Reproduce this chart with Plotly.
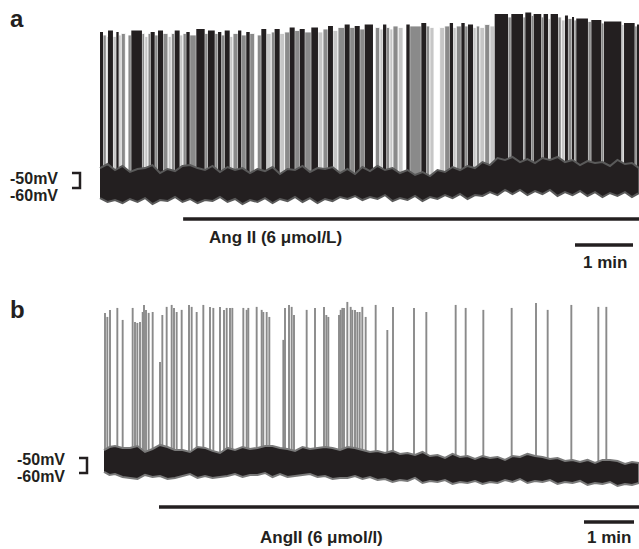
import plotly.graph_objects as go

# ---------------- Panel a data (time in s, potential in mV) ----------------
# Spike-stripe edges (s); each stripe between consecutive edges has a firing density level
# 3 = dense overlapping spikes, 2 = single spikes, 1 = faint spikes, 0 = no spike
a_edges = [0, 3.1, 6.5, 8.3, 13.4, 16.9, 19.3, 22.0, 26.2, 29.0,
           32.4, 43.4, 46.2, 49.7, 52.4, 56.6, 60.0, 65.2, 70.3, 73.8,
           77.3, 82.4, 85.9, 89.3, 92.8, 99.6, 108.3, 111.7, 118.7, 122.1,
           125.5, 129.0, 134.2, 137.6, 142.8, 146.2, 151.3, 154.9, 160.0, 162.7,
           166.9, 172.0, 177.2, 180.6, 185.9, 191.0, 196.2, 201.4, 206.6, 211.8,
           218.6, 225.5, 230.7, 235.9, 241.0, 246.2, 253.1, 258.3, 263.5, 268.7,
           273.8, 282.4, 284.8, 289.4, 292.8, 296.2, 299.7, 303.1, 308.3, 313.5,
           316.9, 320.4, 332.4, 337.5, 341.1, 345.5, 351.4, 356.6, 361.8, 365.2,
           368.6, 373.8, 377.3, 380.7, 385.9, 389.3, 392.8, 398.0, 403.2, 408.3,
           422.1, 425.5, 437.6, 440.0, 446.1, 448.6, 456.5, 458.9, 463.5, 466.2,
           473.8, 477.2, 481.0, 484.1, 488.3, 490.4, 492.7, 504.8, 508.3, 518.6,
           521.4, 539.3, 542.1, 553.1, 555.8, 557.6]
a_levels = [3, 2, 1, 3, 1, 3, 1, 2, 0, 2,
            3, 2, 1, 2, 3, 2, 3, 2, 1, 2,
            3, 1, 2, 3, 2, 3, 2, 3, 2, 3,
            2, 3, 1, 2, 3, 2, 3, 2, 0, 2,
            3, 1, 2, 3, 1, 2, 3, 2, 3, 2,
            3, 1, 2, 3, 1, 2, 3, 2, 3, 2,
            3, 0, 2, 1, 3, 2, 1, 2, 1, 0,
            3, 2, 3, 2, 1, 0, 1, 2, 3, 1,
            2, 3, 2, 3, 1, 2, 1, 2, 1, 3,
            2, 3, 2, 3, 2, 3, 2, 3, 1, 3,
            2, 1, 3, 2, 3, 2, 3, 2, 3, 2,
            3, 1, 3, 2, 3]
a_peaks = [44, 42, 41, 45, 41, 44, 42, 43, 43, 42,
           45, 43, 41, 43, 44, 42, 45, 43, 41, 43,
           45, 42, 43, 44, 42, 46, 43, 45, 43, 44,
           42, 45, 41, 43, 45, 42, 44, 43, 43, 42,
           46, 43, 44, 46, 43, 44, 47, 45, 46, 44,
           47, 44, 46, 48, 45, 47, 49, 47, 48, 46,
           49, 48, 47, 46, 49, 47, 46, 48, 47, 47,
           49, 48, 50, 48, 47, 47, 47, 48, 50, 47,
           48, 50, 48, 49, 47, 48, 47, 49, 48, 56,
           54, 56, 54, 57, 55, 56, 54, 56, 53, 56,
           54, 52, 55, 53, 54, 52, 53, 51, 52, 50,
           51, 49, 50, 48, 49]
# Baseline envelope samples
a_base_t = [0, 15.5, 31.0, 46.6, 62.1, 77.6, 93.1, 108.6, 124.1, 139.7, 155.2, 170.7,
            186.2, 201.7, 217.2, 232.8, 248.3, 263.8, 279.3, 294.8, 310.3, 325.9, 341.4,
            356.9, 372.4, 387.9, 403.4, 419.0, 434.5, 450.0, 465.5, 481.0, 496.6, 512.1,
            527.6, 543.1, 557.6]
a_base_hi = [-46.7, -48, -49.3, -46.7, -50, -48.7, -44.7, -48, -49.3, -48, -50, -48.7,
             -50.7, -48, -49.3, -47.3, -50, -50.7, -48.7, -48, -50, -51.3, -52, -49.3,
             -48, -46.7, -44.7, -41.3, -42.7, -43.3, -41.3, -42.7, -44.7, -43.3, -45.3,
             -44, -46.7]
a_base_lo = [-66.7, -68, -67.3, -66.7, -68, -66, -67.3, -68, -66, -67.3, -68, -66.7,
             -67.3, -66, -66.7, -67.3, -66, -65.3, -66, -64.7, -66.7, -65.3, -66, -64.7,
             -64, -64.7, -62.7, -61.3, -61.3, -62, -61.3, -62.7, -62, -62.7, -63.3,
             -62.7, -63.3]
# Noise excursions between the samples
a_noise_t = [7.8, 23.3, 38.8, 54.3, 69.8, 85.3, 100.9, 116.4, 131.9, 147.4, 162.9, 178.5,
             194.0, 209.5, 225.0, 240.5, 256.0, 271.5, 287.1, 302.6, 318.1, 333.6, 349.1,
             364.7, 380.2, 395.7, 411.2, 426.7, 442.2, 457.7, 473.3, 488.8, 504.3, 519.8,
             535.3, 550.3]
a_noise_hi = [-44.0, -45.3, -47.3, -44.7, -47.3, -45.3, -46.7, -45.3, -46.0, -46.7, -47.3,
              -46.0, -47.3, -45.3, -46.7, -46.0, -47.3, -46.0, -45.3, -46.7, -48.0, -49.3,
              -48.0, -46.0, -45.3, -42.7, -40.0, -39.3, -40.7, -40.0, -39.3, -41.3, -42.0,
              -42.7, -41.3, -43.3]
a_noise_lo = [-69.3, -70.0, -69.3, -70.7, -68.7, -69.3, -70.0, -68.7, -69.3, -70.7, -69.3,
              -70.0, -68.7, -69.3, -70.0, -68.7, -67.3, -68.0, -67.3, -68.7, -68.0, -68.7,
              -67.3, -66.7, -67.3, -65.3, -64.7, -64.0, -64.7, -64.0, -65.3, -64.7, -65.3,
              -66.0, -65.3, -66.0]
a_drug_on, a_drug_off = 86.0, 557.6

# ---------------- Panel b data ----------------
b_spike_t = [1.2, 4.0, 7.2, 16.0, 22.4, 34.4, 37.2, 40.0, 43.2, 46.4,
             48.0, 50.4, 53.6, 58.4, 67.2, 70.0, 75.2, 81.2, 84.0, 87.2,
             93.2, 102.0, 105.2, 111.2, 119.2, 127.2, 131.2, 139.2, 144.0, 147.2,
             151.2, 154.0, 167.2, 171.2, 173.2, 183.2, 189.2, 191.2, 195.2, 198.4,
             215.2, 217.2, 222.0, 225.2, 228.0, 243.2, 253.2, 264.0, 266.8, 269.2,
             282.0, 284.0, 286.0, 288.0, 292.0, 296.0, 298.0, 301.2, 304.0, 306.8,
             310.0, 314.0, 326.0, 340.0, 346.8, 372.0, 386.8, 422.0, 434.0, 455.2,
             489.2, 518.4, 532.4, 560.8, 593.2, 602.8]
b_spike_peak = [46.7, 44, 48.7, 50, 42, 50, 40.7, 40, 40.7, 47.3,
                52, 48.7, 46.7, 47.3, 14, 45.3, 50.7, 52, 50, 47.3,
                48.7, 52, 50.7, 47.3, 52, 50.7, 50, 50.7, 48.7, 50,
                50, 50, 50, 48.7, 50, 50.7, 48.7, 47.3, 47.3, 44,
                28.7, 50, 52, 50.7, 45.3, 48.7, 50, 50.7, 45.3, 44,
                45.3, 48.7, 50, 50, 54, 50.7, 48.7, 48.7, 47.3, 47.3,
                50.7, 44, 52, 35.3, 50.7, 50, 47.3, 52, 50, 48.7,
                50, 53.3, 48.7, 52, 50.7, 50.7]
b_base_t = [0, 13.2, 31.2, 49.2, 67.2, 85.2, 103.2, 121.2, 139.2, 157.2, 175.2, 193.2,
            211.2, 229.2, 247.2, 265.2, 283.2, 301.2, 319.2, 337.2, 355.2, 373.2, 391.2,
            409.2, 427.2, 445.2, 463.2, 481.2, 499.2, 517.2, 535.2, 553.2, 571.2, 589.2,
            607.2, 625.2, 642.0]
b_base_hi = [-44.7, -42, -43.3, -46, -41.3, -44.7, -46, -43.3, -46.7, -44.7, -44, -42,
             -43.3, -45.3, -44, -42.7, -44.7, -43.3, -46, -46.7, -47.3, -48, -48.7, -50,
             -49.3, -50.7, -50, -51.3, -49.3, -48.7, -50.7, -52, -52.7, -53.3, -51.3,
             -54, -53.3]
b_base_lo = [-59.3, -60.7, -63.3, -61.3, -62, -63.3, -60.7, -62, -62.7, -60.7, -61.3, -60,
             -60.7, -62, -60.7, -62, -63.3, -62, -62.7, -64, -64.7, -63.3, -65.3, -64.7,
             -66, -65.3, -66, -64.7, -64, -65.3, -64.7, -66, -65.3, -66.7, -66, -67.3,
             -66.7]
b_noise_t = [6.6, 22.2, 40.2, 58.2, 76.2, 94.2, 112.2, 130.2, 148.2, 166.2, 184.2, 202.2,
             220.2, 238.2, 256.2, 274.2, 292.2, 310.2, 328.2, 346.2, 364.2, 382.2, 400.2,
             418.2, 436.2, 454.2, 472.2, 490.2, 508.2, 526.2, 544.2, 562.2, 580.2, 598.2,
             616.2, 633.6]
b_noise_hi = [-42.7, -43.3, -42.0, -44.0, -42.7, -44.7, -42.7, -45.3, -43.3, -42.7, -43.3,
              -42.0, -44.0, -42.7, -43.3, -43.3, -42.7, -44.7, -45.3, -45.3, -46.7, -46.0,
              -48.0, -47.3, -48.7, -48.7, -49.3, -48.7, -47.3, -49.3, -50.0, -51.3, -51.3,
              -51.3, -52.0, -52.7]
b_noise_lo = [-61.3, -62.7, -64.0, -62.7, -64.0, -62.0, -63.3, -63.3, -62.0, -62.7, -61.3,
              -62.7, -62.7, -61.3, -62.7, -64.0, -63.3, -64.0, -64.7, -66.0, -65.3, -66.7,
              -66.0, -67.3, -66.7, -67.3, -66.7, -66.0, -66.7, -66.0, -67.3, -66.7, -68.0,
              -67.3, -68.7, -68.0]
b_drug_on, b_drug_off = 66.0, 642.0

assert len(a_edges) == len(a_levels) + 1 == len(a_peaks) + 1
assert len(b_spike_t) == len(b_spike_peak)
assert len(a_base_t) == len(a_base_hi) == len(a_base_lo)
assert len(a_noise_t) == len(a_noise_hi) == len(a_noise_lo)
assert len(b_base_t) == len(b_base_hi) == len(b_base_lo)
assert len(b_noise_t) == len(b_noise_hi) == len(b_noise_lo)

BLACK = "#231f20"
LEVEL_COLORS = {3: BLACK, 2: "#8a8a8a", 1: "#c6c6c6"}
SPIKE_BASE = -55

fig = go.Figure()

def envelope(t1, hi1, lo1, t2, hi2, lo2):
    pts = sorted(zip(t1 + t2, hi1 + hi2, lo1 + lo2))
    t = [p[0] for p in pts]
    hi = [p[1] for p in pts]
    lo = [p[2] for p in pts]
    return t + t[::-1], hi + lo[::-1]

# ---- panel a stripes ----
for lvl in (1, 2, 3):
    xs, ws, ys = [], [], []
    for i, L in enumerate(a_levels):
        if L != lvl:
            continue
        s, e = a_edges[i], a_edges[i + 1]
        xs.append((s + e) / 2)
        ws.append(e - s)
        ys.append(a_peaks[i] - SPIKE_BASE)
    fig.add_trace(go.Bar(x=xs, y=ys, width=ws, base=SPIKE_BASE,
                         marker=dict(color=LEVEL_COLORS[lvl],
                                     line=dict(width=0.8 if lvl < 3 else 0, color="white")),
                         xaxis="x", yaxis="y", hoverinfo="skip", showlegend=False))

# ---- panel a baseline ----
ex, ey = envelope(a_base_t, a_base_hi, a_base_lo, a_noise_t, a_noise_hi, a_noise_lo)
fig.add_trace(go.Scatter(x=ex, y=ey, fill="toself", fillcolor=BLACK, mode="lines",
                         line=dict(color="#5a5a5a", width=2),
                         xaxis="x", yaxis="y", hoverinfo="skip", showlegend=False))

# ---- panel b spikes ----
sx, sy = [], []
for t, p in zip(b_spike_t, b_spike_peak):
    sx += [t, t, None]
    sy += [SPIKE_BASE, p, None]
fig.add_trace(go.Scatter(x=sx, y=sy, mode="lines", line=dict(color="#8a8a8a", width=1.9),
                         xaxis="x2", yaxis="y2", hoverinfo="skip", showlegend=False))

# ---- panel b baseline ----
ex, ey = envelope(b_base_t, b_base_hi, b_base_lo, b_noise_t, b_noise_hi, b_noise_lo)
fig.add_trace(go.Scatter(x=ex, y=ey, fill="toself", fillcolor=BLACK, mode="lines",
                         line=dict(color="#7a7a7a", width=2),
                         xaxis="x2", yaxis="y2", hoverinfo="skip", showlegend=False))

def seg(x, y, xa, ya, w):
    fig.add_trace(go.Scatter(x=x, y=y, mode="lines", line=dict(color=BLACK, width=w),
                             xaxis=xa, yaxis=ya, hoverinfo="skip", showlegend=False))

# drug bars, scale bars, brackets
seg([a_drug_on, a_drug_off], [-80.7, -80.7], "x", "y", 3.5)
seg([491.4, 551.4], [-98, -98], "x", "y", 3.5)
seg([-29, -20.7, -20.7, -29], [-50, -50, -60, -60], "x", "y", 2.5)
seg([b_drug_on, b_drug_off], [-82.7, -82.7], "x2", "y2", 3.5)
seg([576, 636], [-92.7, -92.7], "x2", "y2", 3.5)
seg([-30, -20.4, -20.4, -30], [-50, -50, -60, -60], "x2", "y2", 2.5)

FONT = "Liberation Sans, Arial, Helvetica, sans-serif"
def txt(text, x, y, xref, yref, size=17, xanchor="left"):
    fig.add_annotation(text="<b>%s</b>" % text, x=x, y=y, xref=xref, yref=yref,
                       showarrow=False, xanchor=xanchor, yanchor="middle",
                       font=dict(family=FONT, size=size, color=BLACK))

txt("Ang II (6 μmol/L)", 110.7, -92.7, "x", "y")
txt("1 min", 522, -109.3, "x", "y", xanchor="center")
txt("AngII (6 μmol/l)", 184.8, -102.7, "x2", "y2")
txt("1 min", 606, -102.7, "x2", "y2", xanchor="center")
txt("-50mV", 8 / 639, 1 - 178.5 / 549, "paper", "paper", size=16)
txt("-60mV", 8 / 639, 1 - 195.5 / 549, "paper", "paper", size=16)
txt("-50mV", 15 / 639, 1 - 459.5 / 549, "paper", "paper", size=16)
txt("-60mV", 15 / 639, 1 - 476.5 / 549, "paper", "paper", size=16)
txt("a", 8 / 639, 1 - 18 / 549, "paper", "paper", size=24)
txt("b", 8 / 639, 1 - 309 / 549, "paper", "paper", size=24)

ax = dict(visible=False, showgrid=False, zeroline=False, fixedrange=True)
fig.update_layout(
    width=639, height=549, margin=dict(l=0, r=0, t=0, b=0),
    paper_bgcolor="white", plot_bgcolor="white", barmode="overlay",
    xaxis=dict(domain=[0, 1], range=[-103.45, 557.6], anchor="y", **ax),
    yaxis=dict(domain=[0.499, 1], range=[-118, 65.33], anchor="x", **ax),
    xaxis2=dict(domain=[0, 1], range=[-124.8, 642], anchor="y2", **ax),
    yaxis2=dict(domain=[0, 0.481], range=[-110.67, 65.33], anchor="x2", **ax),
)

fig.write_html("out.html", config={"displayModeBar": False},
               post_script="document.body.style.margin='0';document.body.style.overflow='hidden';")
